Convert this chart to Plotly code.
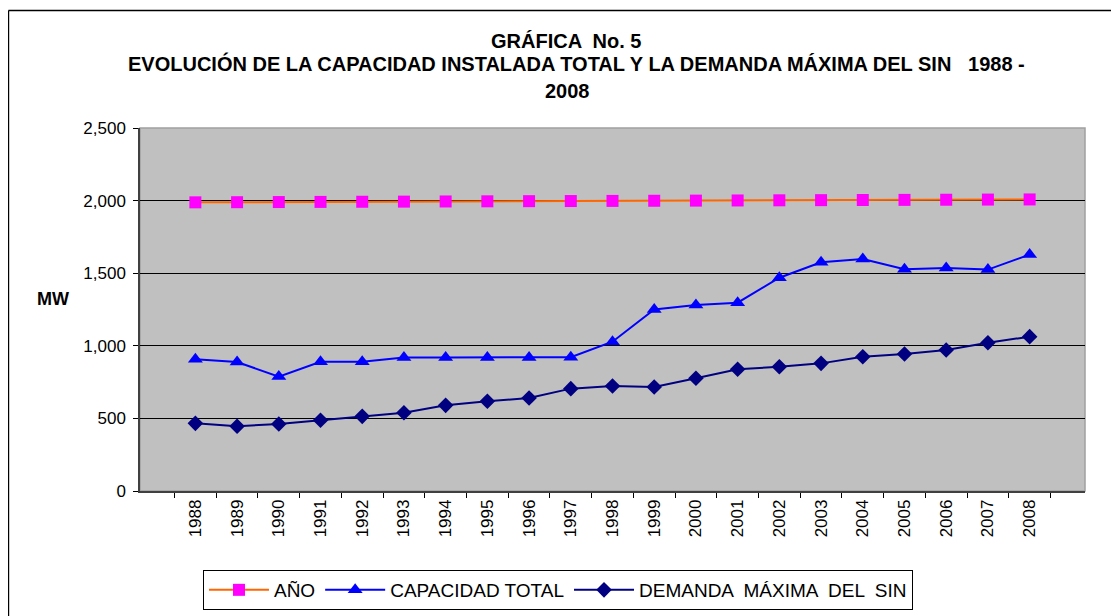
import plotly.graph_objects as go

years = [str(y) for y in range(1988, 2009)]
anio = [1988, 1989, 1990, 1991, 1992, 1993, 1994, 1995, 1996, 1997, 1998,
        1999, 2000, 2001, 2002, 2003, 2004, 2005, 2006, 2007, 2008]
capacidad = [908, 888, 788, 890, 890, 920, 920, 920, 920, 921, 1028,
             1250, 1281, 1297, 1469, 1575, 1598, 1527, 1536, 1525, 1628]
demanda = [466, 446, 461, 487, 514, 539, 590, 618, 640, 705, 723,
           716, 776, 838, 856, 879, 925, 944, 971, 1021, 1063]

FONT = "Arial, Liberation Sans, sans-serif"

fig = go.Figure()
fig.add_trace(go.Scatter(
    x=years, y=anio, name="AÑO", mode="lines+markers",
    line=dict(color="#FF6600", width=2),
    marker=dict(symbol="square", size=12, color="#FF00FF"),
))
fig.add_trace(go.Scatter(
    x=years, y=capacidad, name="CAPACIDAD TOTAL", mode="lines+markers",
    line=dict(color="#0000FF", width=2),
    marker=dict(symbol="triangle-up", size=13, color="#0000FF"),
))
fig.add_trace(go.Scatter(
    x=years, y=demanda, name="DEMANDA  MÁXIMA  DEL  SIN", mode="lines+markers",
    line=dict(color="#000080", width=2),
    marker=dict(symbol="diamond", size=12, color="#000080"),
))

# title lines and axis caption (page has an 8px body margin, figure is 1111x608)
titles = [
    ("GRÁFICA  No. 5", 0.4503, 1.240),
    ("EVOLUCIÓN DE LA CAPACIDAD INSTALADA TOTAL Y LA DEMANDA MÁXIMA DEL SIN   1988 -", 0.4624, 1.178),
    ("2008", 0.4529, 1.102),
]
annotations = [
    dict(text=t, x=x, y=y, xref="paper", yref="paper", showarrow=False,
         xanchor="center", yanchor="middle",
         font=dict(family=FONT, size=20, color="#000000", weight="bold"))
    for t, x, y in titles
]
annotations.append(dict(text="MW", x=-0.092, y=0.528, xref="paper", yref="paper",
                        showarrow=False, xanchor="center", yanchor="middle",
                        font=dict(family=FONT, size=18, color="#000000", weight="bold")))

shapes = [
    # chart frame (top and left edges visible)
    dict(type="line", xref="paper", yref="paper", x0=-0.1392, x1=1.2, y0=1.3237, y1=1.3237,
         line=dict(color="#000000", width=1.5)),
    dict(type="line", xref="paper", yref="paper", x0=-0.1392, x1=-0.1392, y0=1.3237, y1=-0.5,
         line=dict(color="#000000", width=1.5)),
    # plot area border
    dict(type="rect", xref="paper", yref="paper", x0=0, x1=1, y0=0, y1=1,
         line=dict(color="#A0A0A0", width=1.5), layer="below"),
]

fig.update_layout(
    width=1111, height=608,
    margin=dict(l=132, r=34, t=120, b=125, autoexpand=False),
    paper_bgcolor="#FFFFFF",
    plot_bgcolor="#C0C0C0",
    font=dict(family=FONT, size=17, color="#000000"),
    showlegend=True,
    legend=dict(
        orientation="h", x=0.4423, y=-0.2176, xanchor="center", yanchor="top",
        bordercolor="#000000", borderwidth=1, bgcolor="#FFFFFF",
        font=dict(family=FONT, size=19, color="#000000"),
        itemwidth=60,
    ),
    annotations=annotations,
    shapes=shapes,
    xaxis=dict(
        type="category", tickson="boundaries", ticks="outside", ticklen=5,
        tickcolor="#000000", tickangle=-90, showgrid=False,
        showline=True, linecolor="#404040", linewidth=1.5,
        tickfont=dict(family=FONT, size=17),
    ),
    yaxis=dict(
        range=[0, 2500], dtick=500, tickformat=",d", ticks="outside", ticklen=5,
        tickcolor="#000000", showgrid=True, gridcolor="#000000", gridwidth=1,
        showline=True, linecolor="#404040", linewidth=1.5, zeroline=False,
        ticklabelstandoff=4, tickfont=dict(family=FONT, size=17),
    ),
)

fig.write_html("out.html")
